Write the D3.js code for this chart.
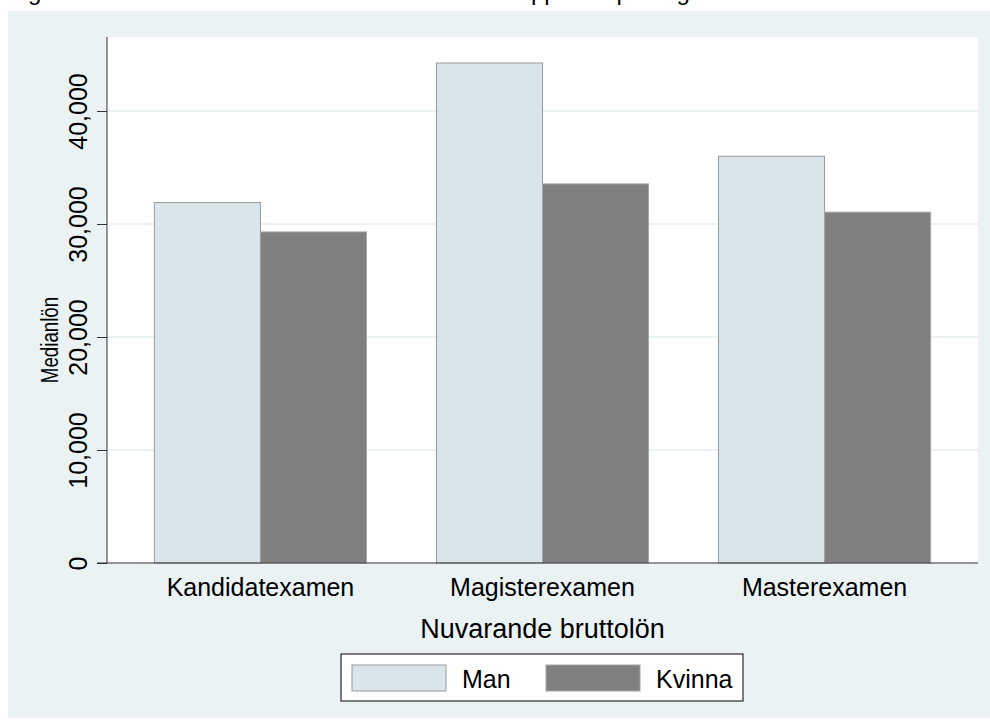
<!DOCTYPE html>
<html>

<head>
  <meta charset="utf-8">
  <title>Medianlön</title>
  <style>
    body {
      margin: 0;
      background-color: #fff;
    }

    svg {
      display: block;
      font-family: "Liberation Sans", Arial, sans-serif;
    }
  </style>
</head>

<body>
  <svg width="990" height="726"></svg>
  <script src="https://d3js.org/d3.v7.min.js"></script>
  <script>
    // data
    var categories = ["Kandidatexamen", "Magisterexamen", "Masterexamen"];
    var groups = ["Man", "Kvinna"];
    var manValues = [31900, 44250, 36000];
    var kvinnaValues = [29300, 33550, 31050];
    var yTicks = [0, 10000, 20000, 30000, 40000];

    var colors = { Man: "#d9e5eb", Kvinna: "#808080" };

    var svg = d3.select("svg"),
      width = +svg.attr("width"),
      height = +svg.attr("height");

    var plot = { left: 107, right: 978, top: 37, bottom: 563 };

    // title sits above the top edge, only the descenders show
    svg.append("text")
      .attr("x", 8)
      .attr("y", 0)
      .attr("font-size", 24)
      .attr("fill", "#000")
      .text("Figur 3.12 Medianlön för män och kvinnor 2013 uppdelat på högsta examen och kön");

    // graph region background
    svg.append("rect")
      .attr("x", 8)
      .attr("y", 11)
      .attr("width", width - 8)
      .attr("height", 707)
      .attr("fill", "#eaf2f3");

    svg.append("rect")
      .attr("x", plot.left)
      .attr("y", plot.top)
      .attr("width", plot.right - plot.left)
      .attr("height", plot.bottom - plot.top)
      .attr("fill", "#fff");

    var x0 = d3.scaleBand()
      .domain(categories)
      .range([plot.left, plot.right])
      .paddingInner(0.248)
      .paddingOuter(0.168);

    var x1 = d3.scaleBand()
      .domain(groups)
      .range([0, x0.bandwidth()]);

    var y = d3.scaleLinear()
      .domain([0, 46550])
      .range([plot.bottom, plot.top]);

    // grid lines
    svg.append("g")
      .selectAll("line")
      .data(yTicks.slice(1))
      .enter().append("line")
      .attr("x1", plot.left)
      .attr("x2", plot.right)
      .attr("y1", function (d) { return y(d); })
      .attr("y2", function (d) { return y(d); })
      .attr("stroke", "#eaf2f3")
      .attr("stroke-width", 2);

    var rows = categories.map(function (c, i) {
      return { cat: c, Man: manValues[i], Kvinna: kvinnaValues[i] };
    });

    var bars = svg.append("g")
      .selectAll("g")
      .data(rows)
      .enter().append("g")
      .attr("transform", function (d) { return "translate(" + x0(d.cat) + ",0)"; });

    bars.selectAll("rect")
      .data(function (d) { return groups.map(function (k) { return { key: k, value: d[k] }; }); })
      .enter().append("rect")
      .attr("x", function (d) { return x1(d.key); })
      .attr("y", function (d) { return y(d.value); })
      .attr("width", x1.bandwidth())
      .attr("height", function (d) { return y(0) - y(d.value); })
      .attr("fill", function (d) { return colors[d.key]; })
      .attr("stroke", function (d) { return d.key == "Man" ? "#999" : "#a6a6a6"; })
      .attr("stroke-width", 1);

    // y axis
    var yAxis = svg.append("g")
      .attr("transform", "translate(" + plot.left + ",0)")
      .call(d3.axisLeft(y).tickValues(yTicks).tickSize(10).tickPadding(0).tickFormat(d3.format(",")));

    yAxis.select(".domain").remove();
    yAxis.selectAll(".tick line").attr("stroke", "#333");
    yAxis.selectAll(".tick text")
      .attr("font-size", 25)
      .attr("font-family", "Liberation Sans, Arial, sans-serif")
      .attr("fill", "#000")
      .attr("text-anchor", "middle")
      .attr("dy", null)
      .attr("x", null)
      .attr("transform", "translate(-20,0)rotate(-90)");

    svg.append("line")
      .attr("x1", plot.left).attr("x2", plot.left)
      .attr("y1", plot.top).attr("y2", plot.bottom)
      .attr("stroke", "#333");

    // x axis
    var xAxis = svg.append("g")
      .attr("transform", "translate(0," + plot.bottom + ")")
      .call(d3.axisBottom(x0).tickSize(0).tickPadding(0).tickSizeOuter(0));

    xAxis.select(".domain")
      .attr("d", "M" + (plot.left - 10) + ",0H" + plot.right)
      .attr("stroke", "#333");
    xAxis.selectAll(".tick text")
      .attr("font-size", 25)
      .attr("font-family", "Liberation Sans, Arial, sans-serif")
      .attr("fill", "#000")
      .attr("dy", null)
      .attr("y", 33);

    svg.append("text")
      .attr("x", (plot.left + plot.right) / 2)
      .attr("y", 638)
      .attr("text-anchor", "middle")
      .attr("font-size", 27)
      .text("Nuvarande bruttolön");

    // y title looks squeezed along its length in the reference
    svg.append("text")
      .attr("transform", "translate(58,340)rotate(-90)scale(0.78,1)")
      .attr("text-anchor", "middle")
      .attr("font-size", 24)
      .text("Medianlön");

    // legend
    var legend = svg.append("g").attr("transform", "translate(341,654)");

    legend.append("rect")
      .attr("width", 402)
      .attr("height", 47)
      .attr("fill", "#fff")
      .attr("stroke", "#000");

    var item = legend.selectAll("g")
      .data(groups)
      .enter().append("g")
      .attr("transform", function (d, i) { return "translate(" + (11 + i * 194) + ",11)"; });

    item.append("rect")
      .attr("width", 94)
      .attr("height", 26)
      .attr("fill", function (d) { return colors[d]; })
      .attr("stroke", function (d) { return d == "Man" ? "#999" : "#a6a6a6"; });

    item.append("text")
      .attr("x", 110)
      .attr("y", 23)
      .attr("font-size", 25)
      .text(function (d) { return d; });
  </script>
</body>

</html>
